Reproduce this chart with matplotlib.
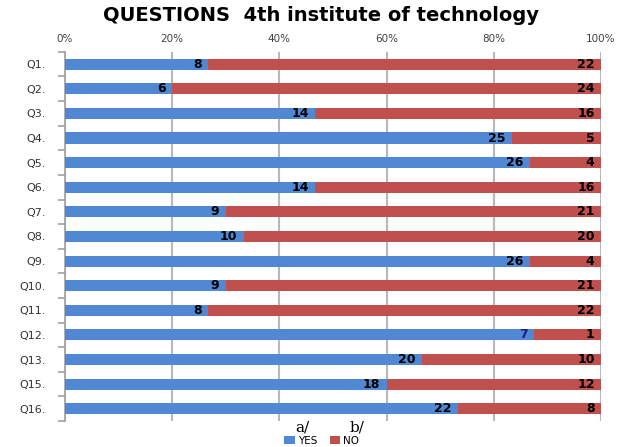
import numpy as np
import matplotlib.pyplot as plt
from matplotlib.ticker import PercentFormatter

questions = ["Q1.", "Q2.", "Q3.", "Q4.", "Q5.", "Q6.", "Q7.", "Q8.", "Q9.",
             "Q10.", "Q11.", "Q12.", "Q13.", "Q15.", "Q16."]
yes = [8, 6, 14, 25, 26, 14, 9, 10, 26, 9, 8, 7, 20, 18, 22]
no = [22, 24, 16, 5, 4, 16, 21, 20, 4, 21, 22, 1, 10, 12, 8]

blue = '#5088d4'
red = '#c0504d'

yes_a = np.array(yes, dtype=float)
no_a = np.array(no, dtype=float)
tot = yes_a + no_a
yes_p = yes_a / tot * 100
no_p = no_a / tot * 100
pos = np.arange(len(questions))

fig = plt.figure(figsize=(6.19, 4.47), dpi=100)
ax = fig.add_axes([0.105, 0.058, 0.866, 0.826])

b1 = ax.barh(pos, yes_p, height=0.45, color=blue, label="YES", zorder=3)
b2 = ax.barh(pos, no_p, left=yes_p, height=0.45, color=red, label="NO", zorder=3)

for i in range(len(questions)):
    c = '#1a1a8a' if questions[i] == "Q12." else 'black'
    ax.text(yes_p[i] - 1.2, pos[i], str(yes[i]), ha='right', va='center',
            fontsize=9, fontweight='bold', color=c, zorder=4)
    ax.text(100 - 1.2, pos[i], str(no[i]), ha='right', va='center',
            fontsize=9, fontweight='bold', color='black', zorder=4)

ax.set_xlim(0, 100)
ax.set_ylim(len(questions) - 0.5, -0.5)
ax.xaxis.tick_top()
ax.set_xticks([0, 20, 40, 60, 80, 100])
ax.xaxis.set_major_formatter(PercentFormatter(decimals=0))
ax.tick_params(axis='x', length=0, labelsize=7.5, labelcolor='#404040', pad=6)
ax.grid(axis='x', color='#b8b8b8', lw=1.5, zorder=0)

ax.set_yticks(pos)
ax.set_yticklabels(questions)
ax.set_yticks(np.arange(len(questions) + 1) - 0.5, minor=True)
ax.tick_params(axis='y', which='major', length=0, labelsize=8, labelcolor='#333333', pad=14)
ax.tick_params(axis='y', which='minor', length=5, color='#a0a0a0', width=1.2)

for s in ['top', 'right', 'bottom']:
    ax.spines[s].set_visible(False)
ax.spines['left'].set_color('#a0a0a0')
ax.spines['left'].set_linewidth(1.2)

fig.text(0.518, 0.966, "QUESTIONS  4th institute of technology", ha='center', va='center',
         fontsize=14, fontweight='bold')

fig.legend(handles=[b1, b2], loc='center', bbox_to_anchor=(0.52, 0.014), ncol=2,
           frameon=False, fontsize=7.5, handlelength=1.0, handleheight=0.7,
           handletextpad=0.3, columnspacing=1.2)
fig.text(0.488, 0.043, "a/", ha='center', va='center', fontsize=11, family='serif')
fig.text(0.577, 0.043, "b/", ha='center', va='center', fontsize=11, family='serif')

fig.savefig("out.png", dpi=100)
